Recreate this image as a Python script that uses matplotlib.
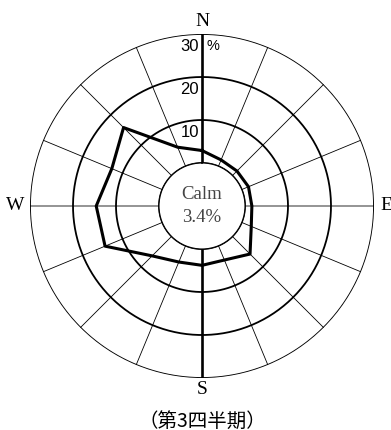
import numpy as np
import matplotlib.pyplot as plt

# wind direction frequency (%), clockwise from N
directions = ['N', 'NNE', 'NE', 'ENE', 'E', 'ESE', 'SE', 'SSE',
              'S', 'SSW', 'SW', 'WSW', 'W', 'WNW', 'NW', 'NNW']
freq = [2.9, 1.6, 1.5, 1.7, 1.6, 2.4, 5.8, 3.6,
        3.8, 4.1, 6.4, 14.4, 14.6, 12.7, 15.8, 4.8]
rings = [10, 20, 30]
calm = 3.4
caption = '（第3四半期）'

serif = ['Liberation Serif', 'DejaVu Serif']
sans = ['Liberation Sans', 'DejaVu Sans']

fig = plt.figure(figsize=(3.91, 4.30), dpi=100)
ax = fig.add_axes([30 / 391, 52 / 430, 344 / 391, 344 / 430], projection='polar')
ax.set_theta_zero_location('N')
ax.set_theta_direction(-1)
ax.set_rorigin(-10)
ax.set_ylim(0, 30)
ax.grid(False)
ax.set_xticks([])
ax.set_yticks([])
ax.spines['polar'].set_visible(False)

theta = np.deg2rad(np.arange(16) * 22.5)
tt = np.linspace(0, 2 * np.pi, 400)

# spokes
for i, t in enumerate(theta):
    if i in (0, 8):
        ax.plot([t, t], [0, 30], color='black', lw=1.9, zorder=2)
    elif i in (4, 12):
        ax.plot([t, t], [0, 30], color='#777777', lw=1.1, zorder=2)
    else:
        ax.plot([t, t], [0, 30], color='black', lw=0.6, zorder=2)

# circles (calm + rings)
for r in [0] + rings:
    ax.plot(tt, np.full_like(tt, r), color='black', lw=1.3, zorder=3)

# frequency polygon
ax.plot(np.append(theta, theta[0]), freq + [freq[0]], color='black', lw=2.2,
        zorder=4, clip_on=False)

# ring labels
for r in rings:
    ax.annotate(str(r), xy=(0, r - 2.9), xytext=(-2, 0), textcoords='offset points',
                ha='right', va='center', fontsize=12, family=sans, zorder=5)
ax.annotate('%', xy=(0, 27.1), xytext=(3, 0), textcoords='offset points',
            ha='left', va='center', fontsize=10.5, family=sans, zorder=5)

# compass letters
ax.text(0.5, 1 + 12.5 / 344, 'N', transform=ax.transAxes, ha='center',
        va='center', fontsize=14, family=serif)
ax.text(0.5, -12 / 344, 'S', transform=ax.transAxes, ha='center',
        va='center', fontsize=14, family=serif)
ax.text(-15 / 344, 0.5, 'W', transform=ax.transAxes, ha='center',
        va='center', fontsize=14, family=serif)
ax.text(1 + 6 / 344, 0.5, 'E', transform=ax.transAxes, ha='left',
        va='center', fontsize=14, family=serif)

# calm text
ax.text(0.5, 0.5 + 11 / 344, 'Calm', transform=ax.transAxes, ha='center',
        va='center', fontsize=13.5, family=serif, color='#444444')
ax.text(0.5, 0.5 - 12 / 344, f'{calm}%', transform=ax.transAxes, ha='center',
        va='center', fontsize=13.5, family=serif, color='#444444')

fig.text(202 / 391, 1 - 421 / 430, caption, ha='center', va='center',
         fontsize=14, family=['Noto Sans CJK JP', 'DejaVu Sans'])

fig.savefig('out.png', dpi=100)
